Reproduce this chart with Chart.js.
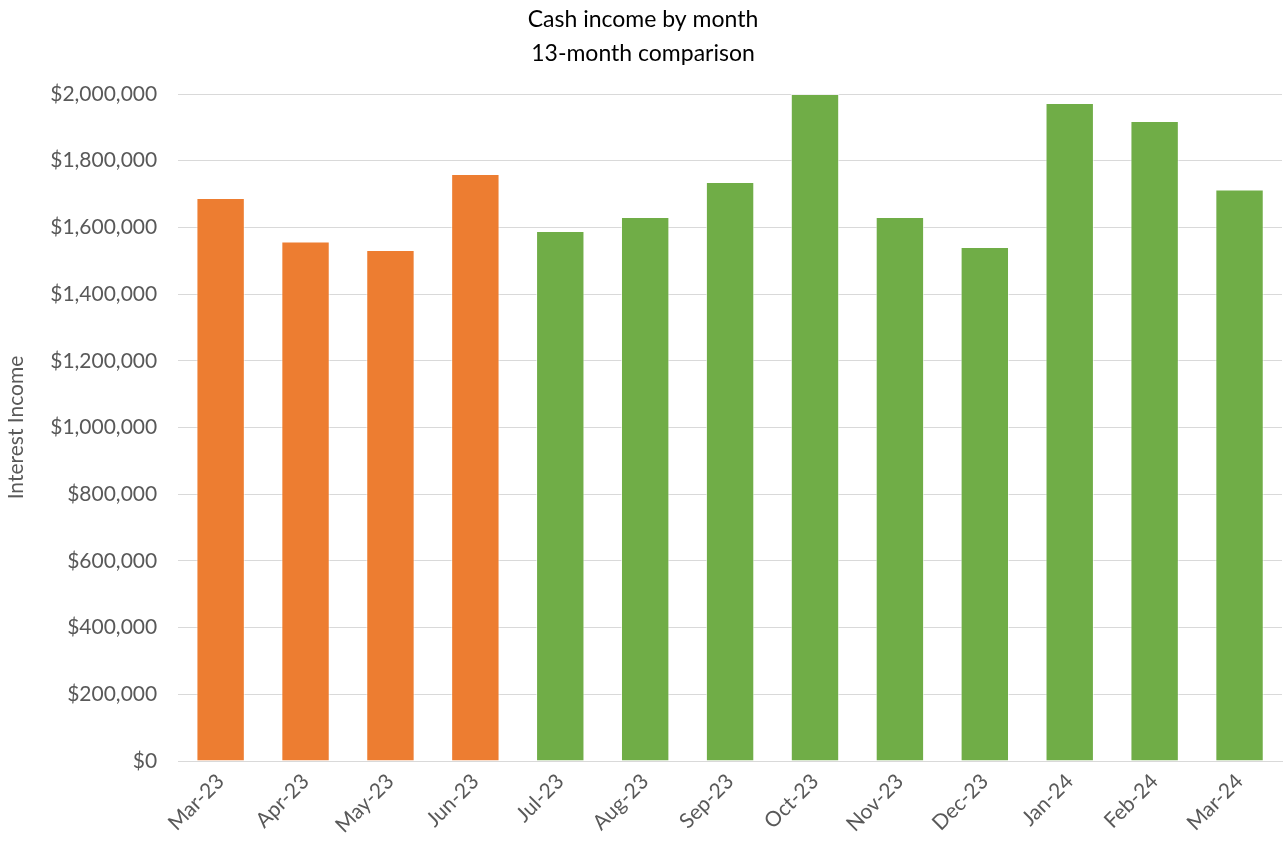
<!DOCTYPE html>
<html>
<head>
<meta charset="utf-8">
<script src="https://cdn.jsdelivr.net/npm/chart.js@4.4.1/dist/chart.umd.min.js"></script>
<style>
  html, body { margin: 0; padding: 0; background: #fff; }
  #wrap { width: 1284px; height: 848px; }
</style>
</head>
<body>
<div id="wrap"><canvas id="incomeChart" width="1284" height="848"></canvas></div>
<script>
const months = ['Mar-23', 'Apr-23', 'May-23', 'Jun-23', 'Jul-23', 'Aug-23', 'Sep-23',
  'Oct-23', 'Nov-23', 'Dec-23', 'Jan-24', 'Feb-24', 'Mar-24'];
const income = [1688000, 1558000, 1532000, 1760000, 1589000, 1631000, 1736000,
  2000000, 1631000, 1541000, 1973000, 1919000, 1714000];
// first 4 months are the prior period (orange), the rest green
const priorCount = 4;

const money = v => '$' + Number(v).toLocaleString('en-US');

const ctx = document.getElementById('incomeChart').getContext('2d');
const incomeChart = new Chart(ctx, {
  type: 'bar',
  data: {
    labels: months,
    datasets: [{
      label: 'Interest Income',
      data: income,
      backgroundColor: income.map((v, i) => i < priorCount ? '#ed7d31' : '#70ad47'),
      borderColor: 'rgba(255,255,255,0.6)',
      borderWidth: 1,
      categoryPercentage: 1,
      barPercentage: 0.57
    }]
  },
  options: {
    responsive: false,
    animation: false,
    layout: { padding: { left: 4, right: 2, top: 2, bottom: 2 } },
    plugins: {
      legend: { display: false },
      tooltip: { enabled: false },
      title: {
        display: true,
        text: ['Cash income by month', '13-month comparison'],
        color: '#000',
        font: { family: 'Lato', size: 23, weight: 'normal', lineHeight: 1.5 },
        padding: { top: 0, bottom: 23 }
      }
    },
    scales: {
      x: {
        grid: { display: false, drawTicks: false },
        border: { color: '#d9d9d9', width: 1 },
        ticks: {
          color: '#595959',
          font: { family: 'Lato', size: 21 },
          maxRotation: 45,
          minRotation: 45,
          padding: 8
        }
      },
      y: {
        min: 0,
        max: 2000000,
        grid: { color: '#d9d9d9', lineWidth: 1, drawTicks: false },
        border: { display: false },
        ticks: {
          stepSize: 200000,
          color: '#595959',
          font: { family: 'Lato', size: 21 },
          padding: 21,
          callback: v => money(v)
        },
        title: {
          display: true,
          text: 'Interest Income',
          color: '#595959',
          font: { family: 'Lato', size: 21 },
          padding: { top: 0, bottom: 0 }
        }
      }
    }
  }
});
</script>
</body>
</html>
